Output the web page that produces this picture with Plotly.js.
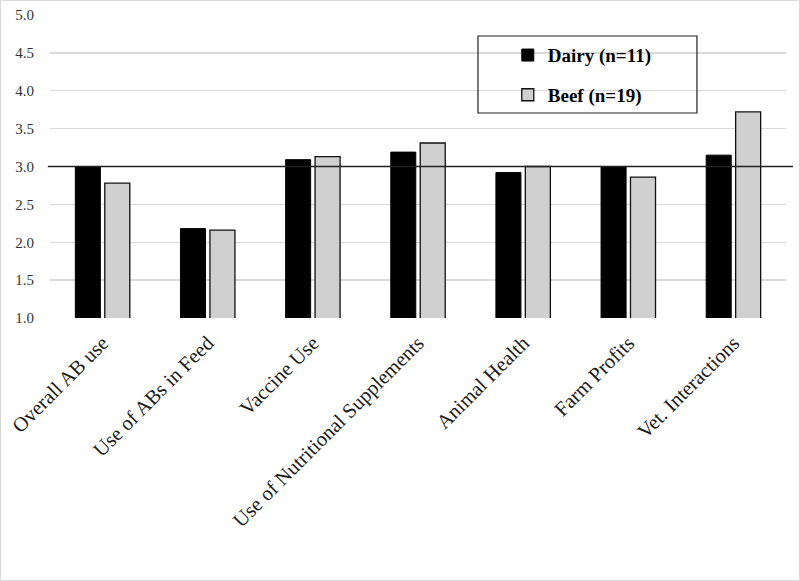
<!DOCTYPE html>
<html><head><meta charset="utf-8">
<script src="https://cdn.plot.ly/plotly-3.0.1.min.js"></script>
<style>body{margin:0;background:#fff}#chart{width:800px;height:581px}</style>
</head><body><div id="chart"></div>
<script>
const categories = ["Overall AB use","Use of ABs in Feed","Vaccine Use","Use of Nutritional Supplements","Animal Health","Farm Profits","Vet. Interactions"];
const dairy = [3.00, 2.18, 3.09, 3.19, 2.92, 3.00, 3.15];
const beef = [2.78, 2.16, 3.13, 3.31, 3.00, 2.86, 3.72];
const seriesNames = ["Dairy (n=11)", "Beef (n=19)"];
const yTicks = [1.0,1.5,2.0,2.5,3.0,3.5,4.0,4.5,5.0];
const refValue = 3.0;

const serif = "Liberation Serif";
const traces = [
  {type:'bar', name:seriesNames[0], x:categories, y:dairy,
   marker:{color:'#000000', line:{color:'#000000', width:1}}, legendgroup:'a'},
  {type:'bar', name:seriesNames[1], x:categories, y:beef,
   marker:{color:'#d0d0d0', line:{color:'#111111', width:1.3}}, legendgroup:'b'}
];
const layout = {
  width:800, height:581,
  margin:{l:50, r:14, t:15, b:263},
  paper_bgcolor:'#ffffff', plot_bgcolor:'#ffffff',
  barmode:'group', bargap:0.44, bargroupgap:0.15,
  showlegend:true,
  legend:{x:0.622, y:0.93, xanchor:'left', yanchor:'top', bgcolor:'rgba(0,0,0,0)',
    borderwidth:0, font:{family:serif, size:19, color:'#000', weight:'bold'}, tracegroupgap:12, traceorder:'grouped'},
  xaxis:{type:'category', tickangle:-45, tickfont:{family:serif, size:20.5, color:'#1a1a1a'},
    showgrid:false, showline:false, ticks:'', ticklabelstandoff:8, automargin:false},
  yaxis:{range:[1,5], tickvals:yTicks, tickformat:'.1f', tickfont:{family:serif, size:15, color:'#333333'},
    showgrid:true, gridcolor:'#d9d9d9', gridwidth:1.3, zeroline:false, showline:false, ticks:'',
    ticklabelstandoff:15, automargin:false},
  shapes:[
    {type:'line', xref:'paper', yref:'y', x0:-0.003, x1:1.0095, y0:refValue, y1:refValue,
     line:{color:'#222', width:1.5}, layer:'above'},
    {type:'rect', xref:'paper', yref:'paper', x0:0.5815, x1:0.879, y0:0.6766, y1:0.9307,
     line:{color:'#222', width:1.2}, fillcolor:'rgba(0,0,0,0)', layer:'above'},
    {type:'rect', xref:'paper', yref:'paper', x0:(0.5-50)/736, x1:(799.5-50)/736, y0:(318-580.5)/303, y1:(318-0.5)/303,
     line:{color:'#d9d9d9', width:1}, fillcolor:'rgba(0,0,0,0)', layer:'below'}
  ]
};
Plotly.newPlot('chart', traces, layout, {displayModeBar:false, staticPlot:true});
</script></body></html>
